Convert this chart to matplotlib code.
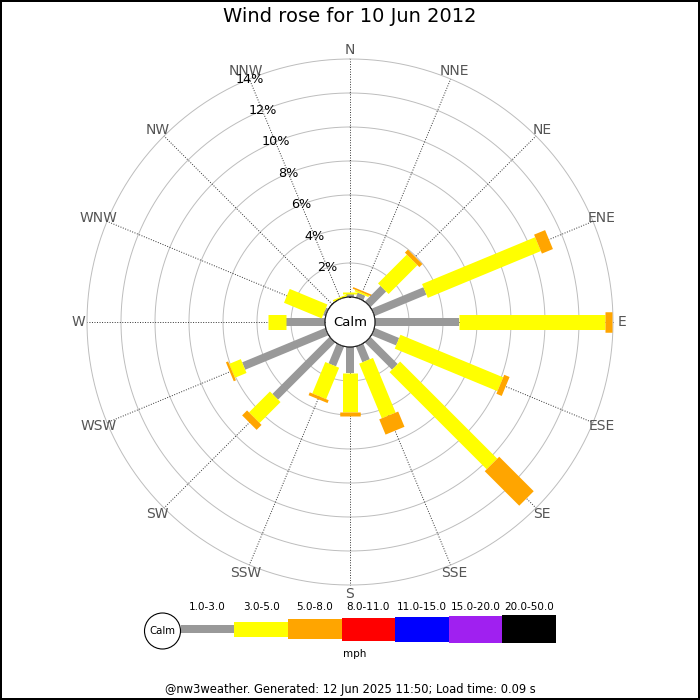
import numpy as np
import matplotlib
matplotlib.use("Agg")
import matplotlib.pyplot as plt
from matplotlib.patches import Circle, Rectangle

# ---------------- data ----------------
directions = ['N', 'NNE', 'NE', 'ENE', 'E', 'ESE', 'SE', 'SSE',
              'S', 'SSW', 'SW', 'WSW', 'W', 'WNW', 'NW', 'NNW']
# percentage of time per speed band (mph)
band_1_3 = [0.2, 0.3, 1.3, 3.3, 4.96, 1.56, 2.26, 1.0, 1.51, 1.26, 4.75, 5.3, 2.3, 0.15, 0.0, 0.0]
band_3_5 = [0.1, 0.1, 2.4, 7.2, 8.59, 6.54, 8.08, 3.48, 2.29, 2.0, 1.74, 0.74, 1.07, 2.4, 0.0, 0.1]
band_5_8 = [0.0, 0.1, 0.25, 0.7, 0.41, 0.34, 2.87, 0.97, 0.25, 0.18, 0.41, 0.14, 0.0, 0.0, 0.0, 0.0]
bands = [band_1_3, band_3_5, band_5_8]

speed_labels = ['1.0-3.0', '3.0-5.0', '5.0-8.0', '8.0-11.0', '11.0-15.0', '15.0-20.0', '20.0-50.0']
speed_colors = ['#999999', '#ffff00', '#ffa500', '#ff0000', '#0000ff', '#a020f0', '#000000']
bar_widths_px = [8, 15, 20.5, 23, 25, 26.7, 28.3]
pct_ticks = [2, 4, 6, 8, 10, 12, 14]
pct_labels = ['2%', '4%', '6%', '8%', '10%', '12%', '14%']

title = 'Wind rose for 10 Jun 2012'
footer = '@nw3weather. Generated: 12 Jun 2025 11:50; Load time: 0.09 s'

# ---------------- figure ----------------
W = H = 700
fig = plt.figure(figsize=(7, 7), dpi=100)
px2pt = 72.0 / 100.0

cx, cy, R = 350, 322, 263     # centre and outer radius in px
calm_r = 25
rmax = 14.0
rorigin = -calm_r * rmax / (R - calm_r)

ax = fig.add_axes([(cx - R) / W, (H - cy - R) / H, 2 * R / W, 2 * R / H],
                  projection='polar')
ax.set_theta_zero_location('N')
ax.set_theta_direction(-1)
ax.set_ylim(0, rmax)
ax.set_rorigin(rorigin)
ax.grid(False)
ax.set_xticks([])
ax.set_yticks([])
ax.spines['polar'].set_visible(False)
ax.patch.set_alpha(0)

theta = np.deg2rad(np.arange(16) * 22.5)
full = np.linspace(0, 2 * np.pi, 400)

# circles
for t in pct_ticks:
    ax.plot(full, np.full_like(full, t), color='#bdbdbd', lw=0.7, zorder=1,
            clip_on=False)
# radial dotted lines
for th in theta:
    ax.plot([th, th], [0, rmax], color='#333333', lw=0.7,
            linestyle=(0, (1, 1.6)), zorder=1, clip_on=False)

# bars
for i, th in enumerate(theta):
    base = 0.0
    for b, vals in enumerate(bands):
        v = vals[i]
        if v > 0:
            ax.plot([th, th], [base, base + v], color=speed_colors[b],
                    lw=bar_widths_px[b] * px2pt, solid_capstyle='butt', zorder=3,
                    clip_on=False)
        base += v

# direction labels
lab_r = rorigin + (272.0 / R) * (rmax - rorigin)
for th, d in zip(theta, directions):
    ax.text(th, lab_r, d, ha='center', va='center', fontsize=10, color='#555555')

# percentage labels along NNW
for t, l in zip(pct_ticks, pct_labels):
    ax.text(np.deg2rad(337.5), t, l, ha='center', va='center', fontsize=9.2,
            color='black', zorder=5)

# calm circle
ax.add_patch(Circle((0.5, 0.5), calm_r / (2 * R), transform=ax.transAxes,
                    facecolor='white', edgecolor='black', lw=0.8, zorder=6))
ax.text(0.5, 0.5, 'Calm', transform=ax.transAxes, ha='center', va='center',
        fontsize=9.5, zorder=7)

# ---------------- overlay (title, legend, footer) ----------------
ov = fig.add_axes([0, 0, 1, 1])
ov.set_xlim(0, W)
ov.set_ylim(H, 0)
ov.axis('off')

ov.text(350, 17, title, ha='center', va='center', fontsize=14)

# legend
ly = 629.2
lx0 = 180.7
seg = 53.6
ov.add_patch(Circle((162.5, 631), 18, facecolor='white', edgecolor='black', lw=0.8, zorder=4))
ov.text(162.5, 631, 'Calm', ha='center', va='center', fontsize=7.3, zorder=5)
for k, (lab, col, hw) in enumerate(zip(speed_labels, speed_colors, bar_widths_px)):
    x0 = lx0 + k * seg
    ov.add_patch(Rectangle((x0, ly - hw / 2), seg, hw, facecolor=col, edgecolor='none', zorder=3))
    ov.text(x0 + seg / 2, 606.5, lab, ha='center', va='center', fontsize=7.5)
ov.text(355, 654, 'mph', ha='center', va='center', fontsize=7.5)

ov.text(350, 690, footer, ha='center', va='center', fontsize=8.3)

# border
ov.add_patch(Rectangle((1, 1), 698, 698, facecolor='none', edgecolor='black',
                       lw=2 * px2pt, zorder=10))

fig.savefig('out.png', dpi=100)
